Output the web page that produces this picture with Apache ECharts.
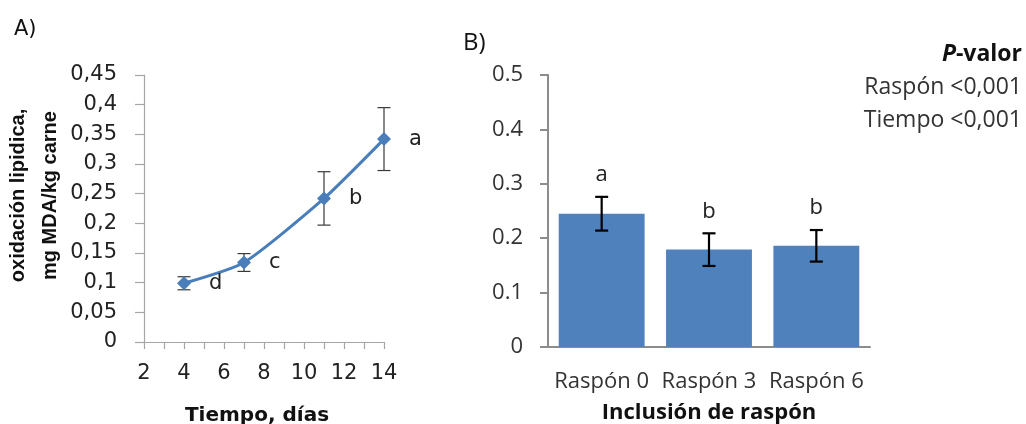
<!DOCTYPE html>
<html><head><meta charset="utf-8">
<script src="https://cdn.jsdelivr.net/npm/echarts@6/dist/echarts.min.js"></script>
<style>html,body{margin:0;padding:0;background:#fff}#c{width:1026px;height:424px}</style>
</head><body><div id="c"></div>
<script>
const daysA = [4, 7, 11, 14];
const meanA = [0.099, 0.134, 0.242, 0.342];
const errA = [0.011, 0.015, 0.045, 0.053];
const lettersA = ['d', 'c', 'b', 'a'];
const yTicksA = ['0', '0,05', '0,1', '0,15', '0,2', '0,25', '0,3', '0,35', '0,4', '0,45'];
const xTicksA = ['2', '', '4', '', '6', '', '8', '', '10', '', '12', '', '14'];
const catsB = ['Raspón 0', 'Raspón 3', 'Raspón 6'];
const meanB = [0.245, 0.179, 0.186];
const errB = [0.031, 0.030, 0.029];
const lettersB = ['a', 'b', 'b'];
const yTicksB = ['0', '0.1', '0.2', '0.3', '0.4', '0.5'];

const chart = echarts.init(document.getElementById('c'), null, {renderer: 'canvas'});
const fA = 'DejaVu Sans';
const fB = 'Open Sans';

function errRenderA(params, api) {
  const x = api.value(0), y = api.value(1), e = api.value(2);
  const t = api.coord([x, y + e]), b = api.coord([x, y - e]);
  const hw = 6.5;
  const st = {stroke: '#3a3a3a', lineWidth: 1.2};
  return {type: 'group', children: [
    {type: 'line', shape: {x1: t[0], y1: t[1], x2: b[0], y2: b[1]}, style: st},
    {type: 'line', shape: {x1: t[0] - hw, y1: t[1], x2: t[0] + hw, y2: t[1]}, style: st},
    {type: 'line', shape: {x1: b[0] - hw, y1: b[1], x2: b[0] + hw, y2: b[1]}, style: st}
  ]};
}
function errRenderB(params, api) {
  const x = api.value(0), y = api.value(1), e = api.value(2);
  const t = api.coord([x, y + e]), b = api.coord([x, y - e]);
  const hw = 6.5;
  const st = {stroke: '#000', lineWidth: 2.2};
  return {type: 'group', children: [
    {type: 'line', shape: {x1: t[0], y1: t[1], x2: b[0], y2: b[1]}, style: st},
    {type: 'line', shape: {x1: t[0] - hw, y1: t[1], x2: t[0] + hw, y2: t[1]}, style: st},
    {type: 'line', shape: {x1: b[0] - hw, y1: b[1], x2: b[0] + hw, y2: b[1]}, style: st},
    {type: 'text', style: {text: lettersB[params.dataIndex], x: t[0], y: t[1] - 22,
      align: 'center', verticalAlign: 'middle', textAlign: 'center', textVerticalAlign: 'middle',
      fontSize: 22, fontFamily: fB, fill: '#222'}}
  ]};
}

const option = {
  animation: false,
  backgroundColor: '#fff',
  grid: [
    {left: 144, top: 75, width: 240, height: 267, containLabel: false, outerBoundsMode: 'none'},
    {left: 548, top: 75, width: 322, height: 272, containLabel: false, outerBoundsMode: 'none'}
  ],
  xAxis: [
    {type: 'value', gridIndex: 0, min: 2, max: 14, interval: 1,
     name: 'Tiempo, días', nameLocation: 'middle', nameGap: 64,
     nameTextStyle: {fontFamily: fA, fontWeight: 'bold', fontSize: 20, color: '#111', padding: [0, 14, 0, 0]},
     axisLine: {lineStyle: {color: '#a6a6a6', width: 1.2}},
     axisTick: {length: 7, lineStyle: {color: '#a6a6a6', width: 1.2}},
     splitLine: {show: false},
     axisLabel: {margin: 21, fontFamily: fA, fontSize: 21, color: '#222',
       formatter: (v, i) => xTicksA[i] || ''}},
    {type: 'category', gridIndex: 1, data: catsB,
     name: 'Inclusión de raspón', nameLocation: 'middle', nameGap: 55,
     nameTextStyle: {fontFamily: fB, fontWeight: 'bold', fontSize: 22, color: '#111'},
     axisLine: {lineStyle: {color: '#8c8c8c', width: 2}},
     axisTick: {show: false},
     axisLabel: {interval: 0, margin: 24, fontFamily: fB, fontSize: 22, color: '#333'}}
  ],
  yAxis: [
    {type: 'value', gridIndex: 0, min: 0, max: 0.45, interval: 0.05,
     name: 'oxidación lipidica,\nmg MDA/kg carne', nameLocation: 'middle', nameRotate: 90, nameGap: 78,
     nameTextStyle: {fontFamily: 'Liberation Sans', fontWeight: 'bold', fontSize: 20, lineHeight: 32, color: '#111', padding: [0, 0, 0, 26]},
     axisLine: {show: true, lineStyle: {color: '#a6a6a6', width: 1.2}},
     axisTick: {show: true, length: 9, lineStyle: {color: '#a6a6a6', width: 1.2}},
     splitLine: {show: false},
     axisLabel: {margin: 27, fontFamily: fA, fontSize: 21, color: '#222',
       formatter: (v, i) => yTicksA[i]}},
    {type: 'value', gridIndex: 1, min: 0, max: 0.5, interval: 0.1,
     axisLine: {show: true, lineStyle: {color: '#8c8c8c', width: 2}},
     axisTick: {show: true, length: 8, lineStyle: {color: '#8c8c8c', width: 2}},
     splitLine: {show: false},
     axisLabel: {margin: 25, fontFamily: fB, fontSize: 22, color: '#333',
       formatter: (v, i) => yTicksB[i]}}
  ],
  series: [
    {type: 'custom', xAxisIndex: 0, yAxisIndex: 0, z: 1, renderItem: errRenderA,
     data: daysA.map((d, i) => [d, meanA[i], errA[i]])},
    {type: 'line', xAxisIndex: 0, yAxisIndex: 0, z: 3, smooth: 0.2,
     data: daysA.map((d, i) => [d, meanA[i]]),
     lineStyle: {color: '#4a7ebb', width: 3},
     itemStyle: {color: '#4a7ebb'},
     symbol: 'diamond', symbolSize: [14, 14],
     label: {show: true, position: 'right', distance: 18, fontFamily: fA, fontSize: 21, color: '#222',
       formatter: p => lettersA[p.dataIndex]}},
    {type: 'bar', xAxisIndex: 1, yAxisIndex: 1, z: 2, barCategoryGap: '20%',
     data: meanB, itemStyle: {color: '#4f81bd'}},
    {type: 'custom', xAxisIndex: 1, yAxisIndex: 1, z: 4, renderItem: errRenderB,
     data: meanB.map((m, i) => [i, m, errB[i]])}
  ],
  graphic: [
    {type: 'text', left: 14, top: 19, style: {text: 'A)', fontFamily: fA, fontSize: 21, fill: '#111'}},
    {type: 'text', left: 463, top: 31, style: {text: 'B)', fontFamily: fB, fontSize: 24, fill: '#111'}},
    {type: 'text', right: 4, top: 43, style: {
      text: '{i|P}{b|-valor}', align: 'right',
      rich: {i: {fontFamily: fB, fontSize: 23, fontWeight: 'bold', fontStyle: 'italic', fill: '#111'},
             b: {fontFamily: fB, fontSize: 23, fontWeight: 'bold', fill: '#111'}}}},
    {type: 'text', right: 4, top: 76, style: {text: 'Raspón <0,001', fontFamily: fB, fontSize: 23, fill: '#333'}},
    {type: 'text', right: 4, top: 109, style: {text: 'Tiempo <0,001', fontFamily: fB, fontSize: 23, fill: '#333'}}
  ]
};
chart.setOption(option);
</script>
</body></html>
